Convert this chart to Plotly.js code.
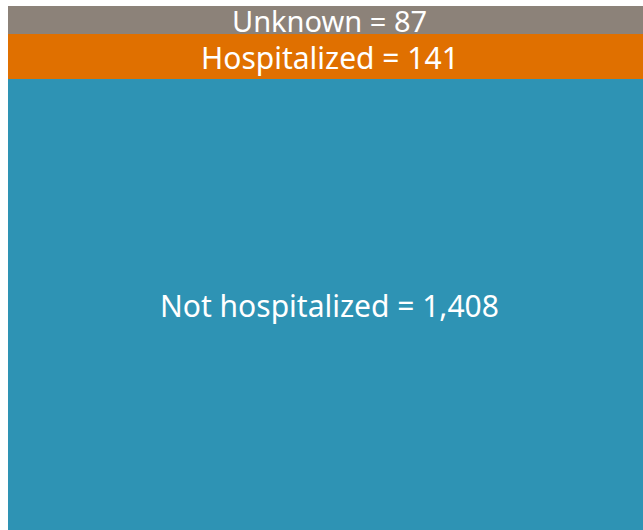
<!DOCTYPE html>
<html><head><meta charset="utf-8">
<script src="https://cdn.plot.ly/plotly-3.0.1.min.js"></script>
<style>html,body{margin:0;padding:0;background:#fff}#chart{width:643px;height:530px}</style>
</head><body><div id="chart"></div>
<script>
const categories = ["Not hospitalized", "Hospitalized", "Unknown"];
const values = [1408, 141, 87];
const colors = ["#2E93B4", "#E07000", "#8C8279"];
const fontSizes = [30, 30, 29];

const traces = categories.map((c, i) => ({
  type: "bar", x: ["all"], y: [values[i]], name: c,
  marker: {color: colors[i], line: {width: 0}},
  hoverinfo: "skip"
}));
const total = values.reduce((a, b) => a + b, 0);
let cum = 0;
const annotations = categories.map((c, i) => {
  const mid = cum + values[i] / 2; cum += values[i];
  return {x: "all", y: mid, xref: "x", yref: "y", showarrow: false,
    xshift: 4, yshift: -1,
    text: c + " = " + values[i].toLocaleString("en-US"),
    font: {family: "Noto Sans, sans-serif", size: fontSizes[i], color: "#ffffff"}};
});
Plotly.newPlot("chart", traces, {
  width: 643, height: 530, barmode: "stack", bargap: 0,
  margin: {l: 8, r: 0, t: 6, b: 0}, showlegend: false,
  paper_bgcolor: "#fff", plot_bgcolor: "#fff",
  xaxis: {visible: false}, yaxis: {visible: false, range: [0, total]},
  annotations
}, {displayModeBar: false, staticPlot: true});
</script></body></html>
